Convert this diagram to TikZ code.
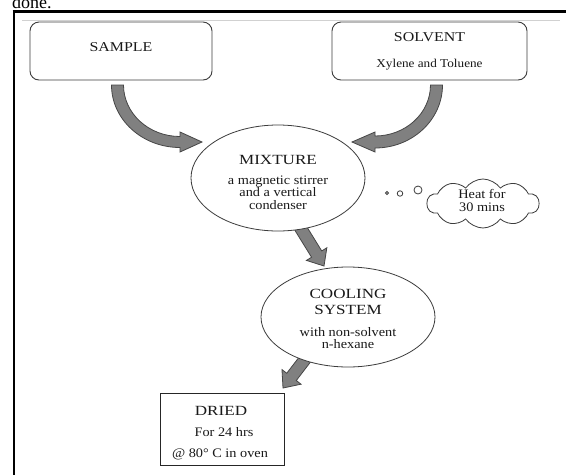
\documentclass[tikz,border=0pt]{standalone}
\usepackage{fontspec}
\setmainfont{Liberation Serif}
\usetikzlibrary{shapes.geometric,shapes.symbols}
\definecolor{arrowfill}{RGB}{128,128,128}
\definecolor{arrowline}{RGB}{70,70,70}
\definecolor{boxline}{RGB}{60,60,60}
\definecolor{txtcol}{RGB}{25,25,25}
\newcommand\capsT[1]{\scalebox{1.22}[1]{\fontsize{14}{16}\selectfont #1}}
\newcommand\capsS[1]{\scalebox{1.18}[1]{\fontsize{13.5}{16}\selectfont #1}}
\newcommand\lowT[1]{\scalebox{1.1}[1]{\fontsize{13}{15}\selectfont #1}}
\newcommand\lowS[1]{\scalebox{1.1}[1]{\fontsize{12}{14}\selectfont #1}}
\tikzset{
  boxr/.style={draw=boxline, line width=0.9pt, rounded corners=9pt, fill=white, inner sep=0pt},
  boxs/.style={draw=black!85, line width=0.9pt, fill=white, inner sep=0pt},
  ell/.style={ellipse, draw=boxline, line width=0.8pt, fill=white, inner sep=0pt},
  txt/.style={inner sep=0pt, anchor=base, text=txtcol},
  fatarrow/.style={fill=arrowfill, draw=arrowline, line width=0.8pt, line join=miter},
  dot/.style={circle, draw=boxline, line width=0.8pt, fill=white, inner sep=0pt},
  thought/.style={cloud, draw=boxline, line width=0.8pt, fill=white, inner sep=0pt,
    cloud puffs=10, cloud puff arc=110, aspect=2.3}
}
\begin{document}
\begin{tikzpicture}[x=1pt,y=-1pt]
\useasboundingbox (0,0) rectangle (566,475);
\fill[white] (0,0) rectangle (566,475);
% surrounding page fragment (cut off at the top, as in the reference)
\begin{scope}
\clip (0,0) rectangle (566,475);
\node[anchor=base west, inner sep=0pt, font=\fontsize{18}{20}\selectfont] (done) at (12,8) {done.};
\end{scope}
% frame
\draw[line width=2.7pt] (12.7,11.5) -- (566,11.5);
\draw[line width=2.7pt] (14,10.2) -- (14,475);
\draw[black!18, line width=0.6pt] (22,20) -- (560,20);

% fat arrows (drawn before the shapes so that their ends hide under them)
\draw[fatarrow] (111.5,85) .. controls (111.5,119.5) and (142.2,147.5) .. (180,147.5)
  -- (180,152) -- (202,142) -- (180,132) -- (180,136.5)
  .. controls (148.8,136.5) and (123.5,113.4) .. (123.5,85) -- cycle;
\draw[fatarrow] (442.5,85) .. controls (442.5,119.8) and (412.3,148) .. (375,148)
  -- (375,152) -- (352,142) -- (375,132) -- (375,136)
  .. controls (405.6,136) and (430.5,113.2) .. (430.5,85) -- cycle;
\draw[fatarrow] (303.9,222.05) -- (321.74,250.94) -- (326.85,247.78) -- (324,266)
  -- (306.43,260.40) -- (311.54,257.24) -- (293.7,228.35) -- cycle;
\draw[fatarrow] (314.41,356.89) -- (296.27,380.54) -- (301.04,384.19) -- (283,388)
  -- (281.98,369.59) -- (286.75,373.24) -- (304.89,349.59) -- cycle;

% shapes
\node[boxr, minimum width=182pt, minimum height=58pt] (sample) at (121,51) {};
\node[boxr, minimum width=195pt, minimum height=58pt] (solvent) at (429.5,51) {};
\node[ell, minimum width=174pt, minimum height=106pt] (mix) at (278,178) {};
\node[ell, minimum width=174pt, minimum height=100pt] (cool) at (348,317) {};
\node[boxs, minimum width=124pt, minimum height=72pt] (dried) at (222,429) {};
\node[thought, minimum width=112pt, minimum height=49pt] (heat) at (483,203.5) {};
\node[dot, minimum size=3pt] (d1) at (387,193) {};
\node[dot, minimum size=5.5pt] (d2) at (400,193.5) {};
\node[dot, minimum size=8pt] (d3) at (418,190) {};

% texts
\node[txt] (sampleT) at (121,51.5) {\capsS{SAMPLE}};
\node[txt] (solventT) at (429.5,41) {\capsS{SOLVENT}};
\node[txt] (solventU) at (429.5,67) {\lowS{Xylene and Toluene}};
\node[txt] (mixT) at (278,164) {\capsT{MIXTURE}};
\node[txt] (mixU) at (278,184) {\lowT{a magnetic stirrer}};
\node[txt] (mixV) at (278,196.5) {\lowT{and a vertical}};
\node[txt] (mixW) at (278,209) {\lowT{condenser}};
\node[txt] (heatT) at (482,198) {\lowT{Heat for}};
\node[txt] (heatU) at (482,211) {\lowT{30 mins}};
\node[txt] (coolT) at (348,298) {\capsT{COOLING}};
\node[txt] (coolU) at (348,314) {\capsT{SYSTEM}};
\node[txt] (coolV) at (348,336) {\lowT{with non-solvent}};
\node[txt] (coolW) at (348,348.5) {\lowT{n-hexane}};
\node[txt] (driedT) at (221,415) {\capsT{DRIED}};
\node[txt] (driedU) at (224,436) {\lowT{For 24 hrs}};
\node[txt] (driedV) at (220,457) {\lowT{@ 80° C in oven}};
\end{tikzpicture}
\end{document}
